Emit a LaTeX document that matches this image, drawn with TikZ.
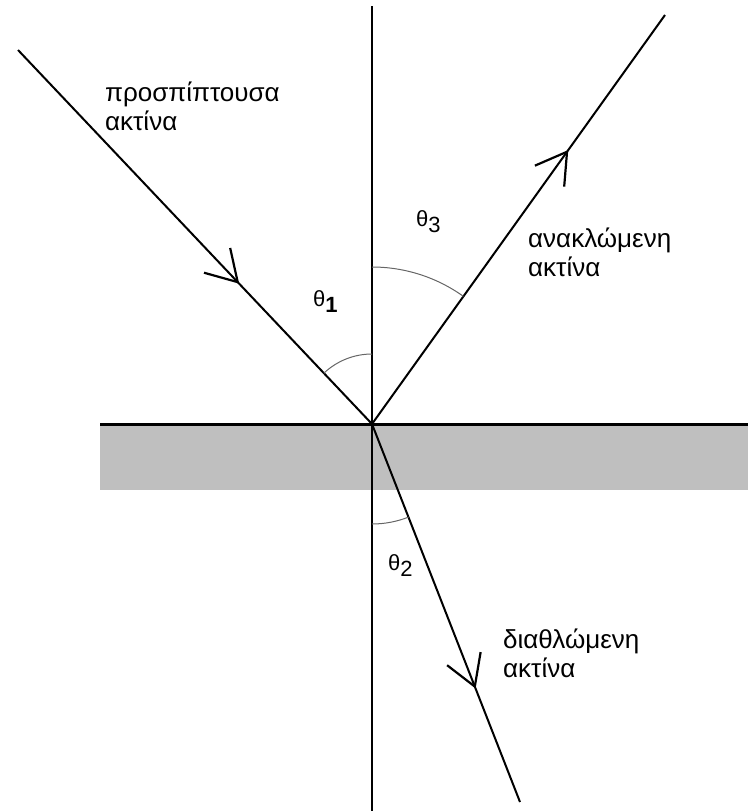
\documentclass[tikz,border=0pt]{standalone}
\usepackage{fontspec}
\setmainfont{Liberation Sans}
\usetikzlibrary{arrows.meta,decorations.markings}
\begin{document}
\begin{tikzpicture}[x=1pt,y=1pt,
  ray/.style={line width=2pt,black},
  anglearc/.style={line width=1pt,black!60},
  lbl/.style={anchor=base west,inner sep=0pt,font=\fontsize{26}{30}\selectfont},
  thlbl/.style={inner sep=0pt,font=\fontsize{22}{26}\selectfont},
  chev/.style={decoration={markings,mark=at position #1 with {\arrow{Straight Barb[length=30pt,width=36pt,line width=2.2pt]}}},postaction={decorate}}
]
\useasboundingbox (0,0) rectangle (748,-811);
% medium
\fill[black!25] (100,-426) rectangle (748,-490);
\coordinate (O) at (372,-424);
\coordinate (L) at (100,-424);
\coordinate (R) at (748,-424);
\coordinate (T) at (372,-6);
\coordinate (B) at (372,-811);
\coordinate (S) at (18,-50);
\coordinate (E1) at (665,-15);
\coordinate (E2) at (520,-802);
\draw[line width=3pt] (L) -- (R);
\draw[line width=2pt] (T) -- (B);
% rays
\draw[ray,chev=0.625] (S) -- (O);
\draw[ray,chev=0.67] (O) -- (E1);
\draw[ray,chev=0.70] (O) -- (E2);
% angle arcs
\draw[anglearc] ([shift={(90:70)}]O) arc[start angle=90,end angle=133.4,radius=70];
\draw[anglearc] ([shift={(90:157)}]O) arc[start angle=90,end angle=54.4,radius=157];
\draw[anglearc] ([shift={(270:100)}]O) arc[start angle=270,end angle=291.5,radius=100];
% angle labels
\node[thlbl,anchor=base west] (t1) at (313,-306) {θ\raisebox{-6pt}{\textbf{1}}};
\node[thlbl,anchor=base west] (t3) at (416,-226) {θ\raisebox{-6pt}{3}};
\node[thlbl,anchor=base west] (t2) at (388,-570) {θ\raisebox{-6pt}{2}};
% ray labels
\node[lbl] (a1) at (105,-101) {προσπίπτουσα};
\node[lbl] (a2) at (105,-130) {ακτίνα};
\node[lbl] (b1) at (528,-247) {ανακλώμενη};
\node[lbl] (b2) at (528,-276) {ακτίνα};
\node[lbl] (c1) at (503,-648) {διαθλώμενη};
\node[lbl] (c2) at (503,-677) {ακτίνα};
\end{tikzpicture}
\end{document}
